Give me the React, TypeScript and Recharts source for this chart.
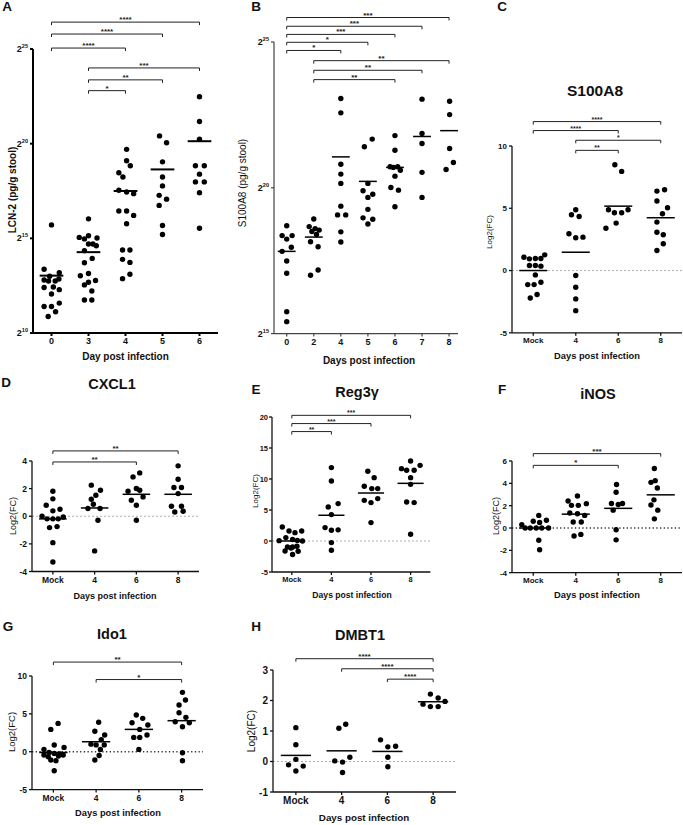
import React from "react";
import { ScatterChart, Scatter, XAxis, YAxis, ReferenceLine } from "recharts";

const FONT = '"Liberation Sans", Arial, Helvetica, sans-serif';

type Bracket = [number, number, number, string];

// A: LCN-2, values are log2(pg/g stool)
const LCN2_DAYS = ["0", "3", "4", "5", "6"];
const LCN2_VALUES = [
  [15.71, 13.37, 13.18, 13.0, 12.8, 12.75, 12.75, 12.85, 12.4, 12.43, 12.29, 12.06, 11.58, 11.4, 11.4, 11.12, 10.87],
  [16.03, 15.14, 15.05, 14.97, 15.02, 14.7, 14.7, 14.61, 14.35, 13.94, 13.71, 13.14, 13.02, 12.77, 12.68, 12.54, 12.22, 11.74, 11.74],
  [19.7, 19.1, 18.83, 18.46, 18.24, 17.54, 17.45, 17.36, 16.44, 16.44, 16.21, 15.77, 14.38, 14.38, 13.89, 13.73, 13.1, 12.87],
  [20.41, 20.05, 19.04, 18.24, 17.77, 17.27, 17.07, 16.74, 15.68, 15.2],
  [22.48, 21.17, 20.23, 18.83, 18.83, 18.39, 17.98, 17.98, 17.41, 15.53],
];
const LCN2_JITTER = [
  [0, -0.2, 0.21, -0.05, -0.2, -0.08, 0.1, 0.2, -0.2, 0.05, 0.21, 0, 0.21, -0.2, 0, 0.11, -0.09],
  [0, 0, -0.25, -0.11, 0.23, 0, 0.12, 0.21, -0.11, 0.1, -0.11, 0, -0.22, 0.19, 0, -0.11, 0.09, -0.11, 0.09],
  [0.03, 0.03, 0.13, -0.18, -0.07, -0.18, 0.03, 0.22, -0.18, 0.03, 0.22, 0.03, -0.08, 0.12, -0.08, 0.12, 0.12, -0.08],
  [-0.08, 0.11, 0, 0, 0, -0.09, 0.11, -0.09, 0, 0],
  [0, 0, 0, -0.11, 0.13, 0, -0.11, 0.13, 0, 0],
];
const LCN2_MEDIANS = [13.03, 14.27, 17.5, 18.64, 20.13];
const LCN2_SIG: Bracket[] = [
  [0, 4, 26.42, "****"],
  [0, 3, 25.79, "****"],
  [0, 2, 25.05, "****"],
  [1, 4, 24.0, "***"],
  [1, 3, 23.37, "**"],
  [1, 2, 22.8, "*"],
];

// B: S100A8 protein, log2(pg/g stool)
const S100_DAYS = ["0", "2", "4", "5", "6", "7", "8"];
const S100_VALUES = [
  [18.7, 18.36, 18.36, 18.24, 17.96, 17.82, 17.49, 17.07, 15.75, 15.41],
  [18.93, 18.67, 18.6, 18.55, 18.5, 18.4, 18.15, 17.98, 17.18, 17.0],
  [23.06, 22.57, 20.81, 20.47, 20.15, 19.37, 19.07, 19.07, 18.49, 18.14],
  [21.67, 21.41, 20.15, 19.9, 19.78, 19.67, 19.26, 18.97, 18.92, 18.76],
  [21.79, 21.29, 20.72, 20.7, 20.72, 20.6, 20.4, 20.01, 19.92, 19.35],
  [23.04, 21.86, 21.52, 20.53, 19.67],
  [22.97, 22.51, 21.35, 20.87, 20.63],
];
const S100_JITTER = [
  [0, -0.17, 0.2, 0, 0.17, -0.17, 0, 0, 0, 0],
  [0, -0.17, 0.05, 0.2, -0.07, 0.1, -0.12, 0.16, 0.16, -0.12],
  [0, 0, 0, 0, 0, 0, -0.12, 0.18, 0, 0],
  [0.16, -0.13, 0, -0.18, 0.18, 0, 0, -0.18, 0.18, 0],
  [0, 0, -0.18, -0.06, 0.1, 0.2, 0, -0.15, 0.13, 0],
  [0, 0, 0, 0, 0],
  [0.02, 0.02, 0.02, 0.16, -0.11],
];
const S100_MEDIANS = [17.82, 18.31, 21.06, 20.22, 20.7, 21.76, 21.96];
const S100_SIG: Bracket[] = [
  [0, 6, 25.84, "***"],
  [0, 5, 25.54, "***"],
  [0, 4, 25.26, "***"],
  [0, 3, 24.99, "*"],
  [0, 2, 24.71, "*"],
  [1, 6, 24.36, "**"],
  [1, 5, 24.03, "**"],
  [1, 4, 23.71, "**"],
];

// C-H: qPCR log2 fold change
const GROUPS = ["Mock", "4", "6", "8"];

const S100A8_FC = [
  [1.26, 1.07, 0.94, 0.97, 0.97, 0.4, 0.4, 0.35, -0.35, -1.13, -1.13, -0.94, -2.2, -1.93],
  [4.88, 4.48, 4.34, 2.95, 2.63, 2.68, -0.4, -1.34, -2.28, -3.22],
  [8.5, 7.96, 4.88, 4.64, 4.64, 4.88, 3.81, 3.4],
  [6.38, 6.49, 5.58, 5.04, 4.56, 3.89, 3.08, 2.87, 2.15, 1.61],
];
const S100A8_JITTER = [
  [0.27, -0.22, -0.09, 0.05, 0.18, -0.09, 0.05, 0.18, 0.05, -0.13, 0.02, 0.18, -0.07, 0.09],
  [0, -0.1, 0.08, -0.16, 0, 0.17, 0, 0, 0, 0],
  [-0.08, 0.08, -0.23, -0.09, 0.08, 0.23, -0.05, -0.29],
  [-0.09, 0.09, -0.09, 0.16, 0.04, -0.09, -0.09, 0.06, 0.06, -0.09],
];
const S100A8_MEDIANS = [0, 1.47, 5.17, 4.24];
const S100A8_SIG: Bracket[] = [
  [0, 3, 11.96, "****"],
  [0, 2, 11.24, "****"],
  [1, 3, 10.46, "*"],
  [1, 2, 9.65, "**"],
];

const CXCL1_FC = [
  [1.81, 1.26, 0.8, 0.39, 0.51, 0.0, -0.19, -0.19, -0.19, -0.05, -0.82, -0.75, -1.91, -3.31],
  [2.25, 1.88, 1.52, 1.23, 0.87, 0.56, 0.56, -0.29, -2.51],
  [2.85, 3.14, 2.01, 1.88, 1.81, 1.4, 1.16, 0.8, -0.29],
  [3.65, 2.68, 2.08, 2.08, 1.64, 0.72, 0.72, 0.31, 0.36],
];
const CXCL1_JITTER = [
  [0, 0, -0.16, 0, 0.17, -0.26, -0.14, 0, 0.13, 0.25, -0.08, 0.1, 0, 0],
  [-0.08, 0.14, 0.03, -0.08, -0.03, -0.16, 0.13, 0.08, 0],
  [-0.08, 0.08, 0, 0.08, -0.2, 0.16, -0.12, 0, 0],
  [0, 0, -0.1, 0.08, 0, -0.16, 0.08, -0.08, 0.12],
];
const CXCL1_MEDIANS = [-0.19, 0.6, 1.59, 1.59];
const CXCL1_SIG: Bracket[] = [
  [0, 3, 4.73, "**"],
  [0, 2, 3.93, "**"],
];

const REG3G_FC = [
  [2.26, 1.61, 1.35, 1.61, 0.55, 0.23, 0.1, 0.0, 0.06, -0.97, -0.97, -0.85, -1.61, -2.19, -1.66, -1.13],
  [11.84, 9.68, 6.03, 5.48, 4.26, 2.16, 1.73, 1.8, -0.26, -1.5],
  [11.24, 10.22, 8.82, 8.45, 8.45, 6.56, 6.19, 6.84, 2.97],
  [12.9, 11.67, 11.4, 11.4, 12.2, 10.22, 9.14, 6.29, 6.19, 1.08],
];
const REG3G_JITTER = [
  [-0.24, -0.07, 0.08, 0.25, -0.15, 0.02, 0.14, 0.27, -0.32, -0.11, 0.02, 0.13, -0.17, 0.02, 0.16, -0.02],
  [0, 0, 0.17, -0.08, 0, -0.16, 0, 0.17, 0, 0],
  [-0.08, 0.08, -0.17, 0.02, 0.17, -0.17, 0, 0.17, 0],
  [0, -0.23, -0.1, 0.09, 0.24, 0, 0, -0.1, 0.09, 0],
];
const REG3G_MEDIANS = [0, 4.15, 7.74, 9.3];
const REG3G_SIG: Bracket[] = [
  [0, 3, 20.27, "***"],
  [0, 2, 18.94, "***"],
  [0, 1, 17.65, "**"],
];

const INOS_FC = [
  [1.13, 0.6, 0.69, 0.3, 0.5, 0, 0, 0, 0, 0, -1.1, -1.94],
  [2.42, 2.87, 2.03, 2.03, 2.18, 1.34, 1.28, 1.13, 0.54, 0.54, -0.72, -0.57],
  [3.9, 3.2, 2.2, 2.1, 2.2, 1.6, -0.15, -1.06],
  [5.33, 4.09, 4.24, 3.58, 2.52, 2.06, 1.6, 0.82],
];
const INOS_JITTER = [
  [0.13, 0, 0.31, -0.27, 0.15, -0.19, -0.07, 0.07, 0.2, 0.36, 0.13, 0.15],
  [-0.18, 0.04, -0.1, 0.06, 0.25, -0.14, 0.04, 0.21, -0.06, 0.13, -0.04, 0.12],
  [-0.04, -0.05, -0.16, 0, 0.1, -0.12, -0.05, -0.05],
  [-0.15, -0.23, -0.13, -0.08, -0.16, -0.23, -0.07, -0.15],
];
const INOS_MEDIANS = [0, 1.24, 1.76, 2.97];
const INOS_SIG: Bracket[] = [
  [0, 3, 6.66, "***"],
  [0, 2, 5.61, "*"],
];

const IDO1_FC = [
  [3.74, 2.95, 0.88, 0.57, 0.31, -0.22, -0.44, -0.66, -0.57, -0.44, -1.1, -1.19, -2.51, -0.1, -0.3],
  [3.9, 2.7, 2.2, 1.6, 1.0, 0.9, 0.9, 0.3, -0.5, -1.1],
  [4.85, 4.41, 3.83, 2.95, 3.52, 1.89, 1.89, 2.2, 0.31],
  [7.84, 6.83, 6.17, 5.15, 4.54, 3.96, 3.83, 3.3, -0.13, -1.19],
];
const IDO1_JITTER = [
  [0.11, -0.06, 0.02, 0.25, -0.22, 0.02, -0.22, -0.12, 0.12, 0.23, -0.06, 0.06, 0.02, -0.1, 0.15],
  [0.06, -0.03, 0.2, 0.12, -0.12, 0, 0.19, 0.1, 0.07, -0.03],
  [-0.06, 0.09, -0.16, 0.02, 0.21, -0.12, 0.02, 0.19, 0],
  [0.02, 0.09, -0.06, -0.06, 0.1, -0.15, 0.18, 0.02, 0.02, 0.02],
];
const IDO1_MEDIANS = [-0.1, 1.32, 2.95, 4.1];
const IDO1_SIG: Bracket[] = [
  [0, 3, 11.84, "**"],
  [1, 3, 9.53, "*"],
];

const DMBT1_FC = [
  [1.11, 0.55, -0.11, -0.15, 0.07, -0.31],
  [1.09, 1.22, 0.14, 0.02, -0.02, -0.36],
  [0.71, 0.48, 0.5, 0.14, -0.17],
  [2.21, 2.08, 1.88, 1.97, 1.8, 1.8],
];
const DMBT1_JITTER = [
  [0, 0, -0.16, 0.16, 0, 0],
  [-0.06, 0.09, 0.18, -0.15, 0.02, 0.02],
  [-0.15, 0.01, 0.18, 0.01, 0.01],
  [-0.06, 0.11, -0.22, 0.26, -0.06, 0.11],
];
const DMBT1_MEDIANS = [0.2, 0.35, 0.33, 1.96];
const DMBT1_SIG: Bracket[] = [
  [0, 3, 3.37, "****"],
  [1, 3, 3.04, "****"],
  [2, 3, 2.7, "****"],
];

const Y_W = 36;
const TOP = 52;
const X_H = 24;
const RIGHT = 4;

interface PanelProps {
  plot: [number, number, number, number];
  xLabels: string[];
  values: number[][];
  jitter: number[][];
  medians: number[];
  brackets: Bracket[];
  yDomain: [number, number];
  yTicks: number[];
  xDomain?: [number, number];
  log?: boolean;
  zero?: "dash" | "dot";
  half?: number;
  axisW?: number;
  axisColor?: string;
  tickFont?: number;
  yTickGap?: number;
  starFont?: number;
}

function Panel(p: PanelProps) {
  const [px, py, pw, ph] = p.plot;
  const n = p.xLabels.length;
  const rows = p.values.flatMap((g, gi) =>
    g.map((v, k) => ({ x: gi + (p.jitter[gi][k] ?? 0), y: v }))
  );
  const half = p.half ?? 0.33;
  const axisW = p.axisW ?? 1.3;
  const axisColor = p.axisColor ?? "#111";
  const tf = p.tickFont ?? 8.5;
  const line = { stroke: axisColor, strokeWidth: axisW };
  const logTick = (props: any) => (
    <text x={props.x} y={props.y} dy={3} textAnchor="end" fontFamily={FONT} fontWeight={700} fontSize={tf} fill="#111">
      <tspan>2</tspan>
      <tspan dy={-4} fontSize={tf * 0.62}>{props.payload.value}</tspan>
    </text>
  );
  const bracketShape = (b: any) => (
    <path
      d={`M${b.x1},${b.y1 + 3}V${b.y1}H${b.x2}V${b.y2 + 3}`}
      stroke="#222"
      strokeWidth={1}
      fill="none"
    />
  );
  return (
    <div style={{ position: "absolute", left: px - Y_W, top: py - TOP }}>
      <ScatterChart
        width={Y_W + pw + RIGHT}
        height={TOP + ph + X_H}
        margin={{ top: TOP, right: RIGHT, bottom: 0, left: 0 }}
      >
        <XAxis
          type="number"
          dataKey="x"
          domain={p.xDomain ?? [-0.5, n - 0.5]}
          ticks={p.xLabels.map((_, i) => i)}
          tickFormatter={(i: number) => p.xLabels[i]}
          allowDataOverflow
          height={X_H}
          tickSize={3}
          tickMargin={2}
          axisLine={line}
          tickLine={line}
          tick={{ fontSize: tf, fontWeight: 700, fill: "#111", fontFamily: FONT }}
          interval={0}
        />
        <YAxis
          type="number"
          dataKey="y"
          domain={p.yDomain}
          ticks={p.yTicks}
          allowDataOverflow
          width={Y_W}
          tickSize={3}
          tickMargin={p.yTickGap ?? 2}
          axisLine={line}
          tickLine={line}
          tick={p.log ? logTick : { fontSize: tf, fontWeight: 700, fill: "#111", fontFamily: FONT }}
          interval={0}
        />
        {p.zero === "dash" && (
          <ReferenceLine y={0} stroke="#9a9a9a" strokeWidth={0.8} strokeDasharray="2 2" />
        )}
        {p.zero === "dot" && (
          <ReferenceLine y={0} stroke="#333" strokeWidth={1.3} strokeDasharray="1.3 2.4" />
        )}
        {p.medians.map((m, i) => (
          <ReferenceLine
            key={`m${i}`}
            segment={[
              { x: i - half, y: m },
              { x: i + half, y: m },
            ]}
            stroke="#000"
            strokeWidth={p.log && axisW > 1.5 ? 2 : 1.5}
            ifOverflow="visible"
          />
        ))}
        {p.brackets.map(([a, b, h, s], i) => (
          <ReferenceLine
            key={`b${i}`}
            segment={[
              { x: a, y: h },
              { x: b, y: h },
            ]}
            ifOverflow="visible"
            shape={bracketShape}
            label={{
              value: s,
              position: "top",
              offset: 0,
              fontSize: p.starFont ?? 8,
              fontWeight: 700,
              fill: "#222",
              fontFamily: FONT,
            }}
          />
        ))}
        <Scatter
          data={rows}
          isAnimationActive={false}
          shape={(d: any) => <circle cx={d.cx} cy={d.cy} r={2.7} fill="#000" />}
        />
      </ScatterChart>
    </div>
  );
}

function Txt(props: {
  x: number;
  y: number;
  size: number;
  bold?: boolean;
  rotate?: boolean;
  children: React.ReactNode;
}) {
  return (
    <div
      style={{
        position: "absolute",
        left: props.x,
        top: props.y,
        transform: `translate(-50%, -50%)${props.rotate ? " rotate(-90deg)" : ""}`,
        fontSize: props.size,
        fontWeight: props.bold === false ? 400 : 700,
        fontFamily: FONT,
        whiteSpace: "nowrap",
        lineHeight: 1,
        color: "#111",
      }}
    >
      {props.children}
    </div>
  );
}

export default function App() {
  return (
    <div
      style={{
        position: "absolute",
        left: 0,
        top: 0,
        width: 683,
        height: 825,
        overflow: "hidden",
        background: "#fff",
      }}
    >
      {/* row 1 */}
      <Panel
        plot={[33, 49, 185, 284]}
        xLabels={LCN2_DAYS}
        values={LCN2_VALUES}
        jitter={LCN2_JITTER}
        medians={LCN2_MEDIANS}
        brackets={LCN2_SIG}
        yDomain={[10, 25]}
        yTicks={[10, 15, 20, 25]}
        log
        half={0.32}
        axisW={2}
        axisColor="#000"
        tickFont={9}
      />
      <Panel
        plot={[274, 41.7, 184, 291.6]}
        xLabels={S100_DAYS}
        values={S100_VALUES}
        jitter={S100_JITTER}
        medians={S100_MEDIANS}
        brackets={S100_SIG}
        yDomain={[15, 25]}
        yTicks={[15, 20, 25]}
        xDomain={[-0.47, 6.33]}
        log
        half={0.33}
        axisW={1.2}
        axisColor="#444"
        tickFont={9}
      />
      <Panel
        plot={[512, 145.7, 170, 186.8]}
        xLabels={GROUPS}
        values={S100A8_FC}
        jitter={S100A8_JITTER}
        medians={S100A8_MEDIANS}
        brackets={S100A8_SIG}
        yDomain={[-5, 10]}
        yTicks={[-5, 0, 5, 10]}
        zero="dash"
        tickFont={8}
        starFont={7}
      />

      {/* row 2 */}
      <Panel
        plot={[32.3, 460.7, 167, 110.5]}
        xLabels={GROUPS}
        values={CXCL1_FC}
        jitter={CXCL1_JITTER}
        medians={CXCL1_MEDIANS}
        brackets={CXCL1_SIG}
        yDomain={[-4, 4]}
        yTicks={[-4, -2, 0, 2, 4]}
        zero="dash"
        tickFont={8.5}
      />
      <Panel
        plot={[272.3, 416.7, 158.4, 155]}
        xLabels={GROUPS}
        values={REG3G_FC}
        jitter={REG3G_JITTER}
        medians={REG3G_MEDIANS}
        brackets={REG3G_SIG}
        yDomain={[-5, 20]}
        yTicks={[-5, 0, 5, 10, 15, 20]}
        zero="dash"
        tickFont={7.5}
        yTickGap={1}
        starFont={7}
      />
      <Panel
        plot={[512, 460.7, 170, 111.7]}
        xLabels={GROUPS}
        values={INOS_FC}
        jitter={INOS_JITTER}
        medians={INOS_MEDIANS}
        brackets={INOS_SIG}
        yDomain={[-4, 6]}
        yTicks={[-4, -2, 0, 2, 4, 6]}
        zero="dot"
        tickFont={8}
      />

      {/* row 3 */}
      <Panel
        plot={[32.3, 675.7, 171, 113.6]}
        xLabels={GROUPS}
        values={IDO1_FC}
        jitter={IDO1_JITTER}
        medians={IDO1_MEDIANS}
        brackets={IDO1_SIG}
        yDomain={[-5, 10]}
        yTicks={[-5, 0, 5, 10]}
        zero="dot"
        tickFont={8.5}
      />
      <Panel
        plot={[272.7, 670, 183, 122]}
        xLabels={GROUPS}
        values={DMBT1_FC}
        jitter={DMBT1_JITTER}
        medians={DMBT1_MEDIANS}
        brackets={DMBT1_SIG}
        yDomain={[-1, 3]}
        yTicks={[-1, 0, 1, 2, 3]}
        zero="dash"
        tickFont={10}
        starFont={8}
      />

      {/* panel letters */}
      <Txt x={7} y={7} size={13.5}>A</Txt>
      <Txt x={256} y={7} size={13.5}>B</Txt>
      <Txt x={502} y={7} size={13.5}>C</Txt>
      <Txt x={6} y={383} size={13.5}>D</Txt>
      <Txt x={256} y={390} size={13.5}>E</Txt>
      <Txt x={502} y={390} size={13.5}>F</Txt>
      <Txt x={8} y={627} size={13.5}>G</Txt>
      <Txt x={256} y={627} size={13.5}>H</Txt>

      {/* titles */}
      <Txt x={595} y={91} size={15.5}>S100A8</Txt>
      <Txt x={112} y={384} size={14.5}>CXCL1</Txt>
      <Txt x={357} y={392} size={14.5}>Reg3γ</Txt>
      <Txt x={598} y={394} size={14.5}>iNOS</Txt>
      <Txt x={112} y={634} size={14.5}>Ido1</Txt>
      <Txt x={360} y={635} size={14.5}>DMBT1</Txt>

      {/* x axis titles */}
      <Txt x={125.5} y={357} size={10}>Day post infection</Txt>
      <Txt x={369} y={361} size={10}>Days post infection</Txt>
      <Txt x={597} y={357} size={9.3}>Days post infection</Txt>
      <Txt x={115} y={596} size={9}>Days post infection</Txt>
      <Txt x={352} y={595} size={8.6}>Days post infection</Txt>
      <Txt x={597} y={596} size={9.3}>Days post infection</Txt>
      <Txt x={118} y={814} size={9.3}>Days post infection</Txt>
      <Txt x={364} y={818} size={9.8}>Days post infection</Txt>

      {/* y axis titles */}
      <Txt x={12.7} y={190} size={10} rotate>LCN-2 (pg/g stool)</Txt>
      <Txt x={243.3} y={182.5} size={10} bold={false} rotate>S100A8 (pg/g stool)</Txt>
      <Txt x={490} y={232} size={8} bold={false} rotate>Log2(FC)</Txt>
      <Txt x={13.3} y={516} size={9} bold={false} rotate>Log2(FC)</Txt>
      <Txt x={255.5} y={491} size={8} bold={false} rotate>Log2(FC)</Txt>
      <Txt x={495.7} y={516} size={9} bold={false} rotate>Log2(FC)</Txt>
      <Txt x={11.7} y={732} size={9.5} bold={false} rotate>Log2(FC)</Txt>
      <Txt x={251.7} y={730.5} size={10} bold={false} rotate>Log2(FC)</Txt>
    </div>
  );
}
